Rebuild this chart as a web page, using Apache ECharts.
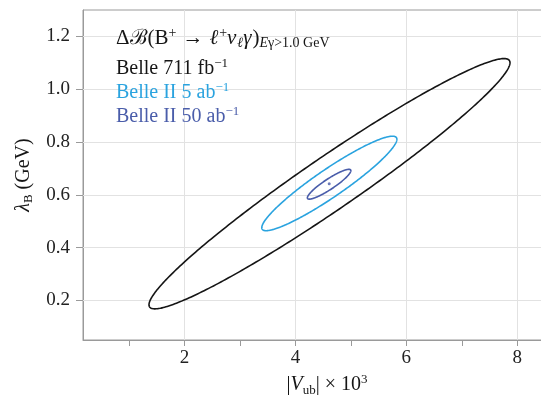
<!DOCTYPE html>
<html><head><meta charset="utf-8">
<script src="https://cdn.jsdelivr.net/npm/echarts@6/dist/echarts.min.js"></script>
<style>html,body{margin:0;padding:0;background:#fff}#c{width:541px;height:402px}</style>
</head><body><div id="c"></div>
<script>
// ---- data ----
const seriesNames = ['Belle 711 fb-1', 'Belle II 5 ab-1', 'Belle II 50 ab-1'];
const centerX    = [4.615, 4.612, 4.608];
const centerY    = [0.642, 0.643, 0.640];
const halfWidthX = [3.255, 1.218, 0.392];
const halfWidthY = [0.474, 0.179, 0.0565];
const correlation = [0.967, 0.935, 0.91];
const bestFit = [[4.61, 0.642]];
const xTickValues = [1, 2, 3, 4, 5, 6, 7, 8];
const xLabelValues = [2, 4, 6, 8];
const yTickValues = [0.2, 0.4, 0.6, 0.8, 1.0, 1.2];
const yLabels = ['0.2', '0.4', '0.6', '0.8', '1.0', '1.2'];

const colors = ['#151515', '#2aa3df', '#4a5daa'];
const FONT = 'Liberation Serif';

function renderEllipse(params, api) {
  const cx = api.value(0), cy = api.value(1), hx = api.value(2), hy = api.value(3), r = api.value(4);
  const s = Math.sqrt(1 - r * r);
  const pts = [];
  const N = 360;
  for (let i = 0; i <= N; i++) {
    const t = 2 * Math.PI * i / N;
    pts.push(api.coord([cx + hx * Math.cos(t), cy + hy * (r * Math.cos(t) + s * Math.sin(t))]));
  }
  return { type: 'polyline', shape: { points: pts },
    style: { stroke: api.visual('color'), fill: null, lineWidth: 1.6 } };
}

const baseRich = {
  t:   { fontFamily: FONT, fontSize: 20, lineHeight: 24, fontWeight: 'normal' },
  it:  { fontFamily: FONT, fontSize: 20, lineHeight: 24, fontStyle: 'italic', fontWeight: 'normal' },
  sup: { fontFamily: FONT, fontSize: 13, lineHeight: 13, verticalAlign: 'top', fontWeight: 'normal' },
  sub: { fontFamily: FONT, fontSize: 13, lineHeight: 12, verticalAlign: 'bottom', fontWeight: 'normal' },
  subi:{ fontFamily: FONT, fontSize: 13, lineHeight: 12, verticalAlign: 'bottom', fontStyle: 'italic', fontWeight: 'normal' }
};
const titleRich = {
  t:   { fontFamily: FONT, fontSize: 21, lineHeight: 24, fontWeight: 'normal' },
  ar:  { fontFamily: FONT, fontSize: 21, lineHeight: 24, fontWeight: 'normal', padding: [0, 6, 0, 6] },
  it:  { fontFamily: FONT, fontSize: 21, lineHeight: 24, fontStyle: 'italic', fontWeight: 'normal', padding: [0, 1, 0, 0] },
  sup: { fontFamily: FONT, fontSize: 14, lineHeight: 13, verticalAlign: 'top', fontWeight: 'normal' },
  sub: { fontFamily: FONT, fontSize: 14, lineHeight: 12, verticalAlign: 'bottom', fontWeight: 'normal' },
  subi:{ fontFamily: FONT, fontSize: 14, lineHeight: 12, verticalAlign: 'bottom', fontStyle: 'italic', fontWeight: 'normal' }
};

const legendText = {
  'Belle 711 fb-1':  '{t|Belle 711 fb}{sup|−1}',
  'Belle II 5 ab-1': '{t|Belle II 5 ab}{sup|−1}',
  'Belle II 50 ab-1':'{t|Belle II 50 ab}{sup|−1}'
};

const ellipseSeries = seriesNames.map((n, i) => ({
  type: 'custom', name: n, z: 3,
  renderItem: renderEllipse,
  itemStyle: { color: colors[i] },
  dimensions: ['x', 'y', 'hx', 'hy', 'rho'],
  encode: { x: 0, y: 1 },
  data: [[centerX[i], centerY[i], halfWidthX[i], halfWidthY[i], correlation[i]]]
}));

const option = {
  animation: false,
  backgroundColor: '#fff',
  grid: { left: 83, width: 488, top: 10, height: 330, outerBoundsMode: 'none',
    show: true, borderColor: '#9a9a9a', borderWidth: 1 },
  title: {
    left: 116, top: 26, padding: 0,
    text: '{t|Δ}{t|ℬ}{t|(B}{sup|+}{ar|→}{it|ℓ}{sup|+}{it|ν}{subi|ℓ}{it|γ}{t|)}{subi|E}{sub|γ>1.0 GeV}',
    textStyle: { color: '#151515', fontWeight: 'normal', rich: titleRich }
  },
  legend: {
    orient: 'vertical', left: 111, top: 57, padding: 0,
    itemWidth: 0, itemHeight: 0, itemGap: 2, icon: 'none', selectedMode: false,
    data: seriesNames.map((n, i) => ({ name: n, icon: 'none', textStyle: { color: colors[i] } })),
    formatter: n => legendText[n],
    textStyle: { fontFamily: FONT, fontSize: 20, rich: baseRich }
  },
  xAxis: {
    type: 'value', min: 0.17, max: 8.97,
    name: '{t||}{it|V}{sub|ub}{t|| × 10}{sup|3}',
    nameLocation: 'middle', nameGap: 31,
    nameTextStyle: { color: '#151515', fontWeight: 'normal', rich: baseRich },
    axisLine: { show: true, lineStyle: { color: '#9a9a9a', width: 1 } },
    axisTick: { show: true, length: 6, customValues: xTickValues, lineStyle: { color: '#9a9a9a' } },
    axisLabel: { customValues: xLabelValues, fontFamily: FONT, fontSize: 19, color: '#222', margin: 9 },
    splitLine: { show: false }
  },
  yAxis: {
    type: 'value', min: 0.05, max: 1.3,
    name: '{it|λ}{sub|B}{t| (GeV)}',
    nameLocation: 'middle', nameGap: 39,
    nameTextStyle: { color: '#151515', fontWeight: 'normal', rich: baseRich },
    axisLine: { show: true, lineStyle: { color: '#9a9a9a', width: 1 } },
    axisTick: { show: true, length: 7, customValues: yTickValues, lineStyle: { color: '#9a9a9a' } },
    axisLabel: { customValues: yTickValues, fontFamily: FONT, fontSize: 19, color: '#222', margin: 13,
      formatter: v => yLabels[yTickValues.findIndex(t => Math.abs(t - v) < 1e-9)] || '' },
    splitLine: { show: false }
  },
  series: [
    { type: 'line', name: 'grid', data: [], z: 1, silent: true,
      markLine: { z: 1, silent: true, symbol: ['none', 'none'], animation: false, label: { show: false },
        lineStyle: { color: '#e2e2e2', type: 'solid', width: 1 },
        emphasis: { disabled: true },
        data: xLabelValues.map(v => ({ xAxis: v })).concat(yTickValues.map(v => ({ yAxis: v }))) } },
    ...ellipseSeries,
    { type: 'scatter', name: 'best fit', data: bestFit, symbolSize: 3, z: 4,
      itemStyle: { color: colors[2] } }
  ]
};
echarts.init(document.getElementById('c'), null, { renderer: 'canvas' }).setOption(option);
</script></body></html>
